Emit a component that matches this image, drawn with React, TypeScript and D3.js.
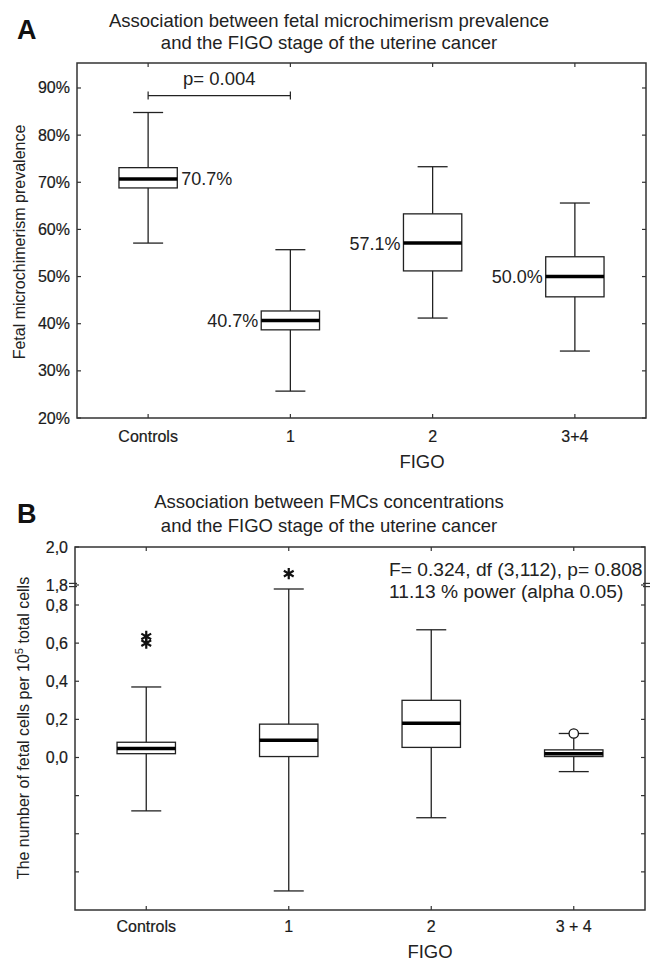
import React, { useEffect, useRef } from 'react';
import * as d3 from 'd3';

const width = 652;
const height = 966;
const font = 'Arial, "Liberation Sans", Helvetica, sans-serif';

// panel A: prevalence boxes
const groupsA = ['Controls', '1', '2', '3+4'];
const whiskerHighA = [84.8, 55.7, 73.3, 65.6];
const q3A = [73.1, 42.7, 63.3, 54.2];
const medianA = [70.7, 40.7, 57.1, 50.0];
const q1A = [68.8, 38.7, 51.2, 45.7];
const whiskerLowA = [57.1, 25.7, 41.2, 34.2];
const ticksA = [20, 30, 40, 50, 60, 70, 80, 90];

// panel B: FMC concentrations (broken axis 0.8 -> 1.8)
const groupsB = ['Controls', '1', '2', '3 + 4'];
const whiskerHighB = [0.37, 1.6, 0.67, 0.126];
const q3B = [0.08, 0.175, 0.30, 0.04];
const medianB = [0.047, 0.09, 0.18, 0.02];
const q1B = [0.02, 0.005, 0.053, 0.005];
const whiskerLowB = [-0.28, -0.70, -0.316, -0.074];
const ticksB = [2.0, 1.8, 0.8, 0.6, 0.4, 0.2, 0.0, -0.2, -0.4, -0.6];
const starOutliersB = [
  { group: 'Controls', value: 0.60 },
  { group: 'Controls', value: 0.635 },
  { group: '1', value: 1.86 },
];
const circleOutliersB = [{ group: '3 + 4', value: 0.126 }];

type Box = { group: string; hi: number; q3: number; med: number; q1: number; lo: number };

// slightly heavier text, the scanned figure looks a bit bold
function heavy(sel: any, w = 0.2) {
  return sel.attr('fill', '#1a1a1a').attr('stroke', '#1a1a1a').attr('stroke-width', w);
}

function drawPanel(svg: any, opts: any) {
  const { x0, x1, y0, y1, groups, y, ticks, tickFmt, boxes } = opts;
  const x = d3.scaleBand<string>().domain(groups).range([x0, x1]).padding(0);
  const g = svg.append('g');
  const tickLen = 4;

  // frame
  g.append('rect')
    .attr('x', x0).attr('y', y0)
    .attr('width', x1 - x0).attr('height', y1 - y0)
    .attr('fill', 'none').attr('stroke', '#333').attr('stroke-width', 1.5);

  // y ticks left + right
  g.selectAll('line.yl').data(ticks).enter().append('line')
    .attr('x1', x0).attr('x2', x0 + tickLen)
    .attr('y1', (d: number) => y(d)).attr('y2', (d: number) => y(d))
    .attr('stroke', '#333').attr('stroke-width', 1.2);
  g.selectAll('line.yr').data(ticks).enter().append('line')
    .attr('x1', x1).attr('x2', x1 - tickLen)
    .attr('y1', (d: number) => y(d)).attr('y2', (d: number) => y(d))
    .attr('stroke', '#333').attr('stroke-width', 1.2);
  heavy(g.selectAll('text.yt').data(ticks.filter((d: number) => tickFmt(d) !== '')).enter().append('text')
    .attr('x', x0 - 7).attr('y', (d: number) => y(d) + 5.5)
    .attr('text-anchor', 'end')
    .style('font-family', font).style('font-size', '16px'))
    .text(tickFmt);

  // x ticks top + bottom
  g.selectAll('line.xt').data(groups).enter().append('line')
    .attr('x1', (d: string) => x(d)! + x.bandwidth() / 2).attr('x2', (d: string) => x(d)! + x.bandwidth() / 2)
    .attr('y1', y0).attr('y2', y0 + tickLen)
    .attr('stroke', '#333').attr('stroke-width', 1.2);
  g.selectAll('line.xb').data(groups).enter().append('line')
    .attr('x1', (d: string) => x(d)! + x.bandwidth() / 2).attr('x2', (d: string) => x(d)! + x.bandwidth() / 2)
    .attr('y1', y1).attr('y2', y1 - tickLen)
    .attr('stroke', '#333').attr('stroke-width', 1.2);

  const boxW = x.bandwidth() * 0.41;
  const capW = 30;
  const bg = g.selectAll('g.box').data(boxes).enter().append('g')
    .attr('transform', (d: Box) => 'translate(' + (x(d.group)! + x.bandwidth() / 2) + ',0)');
  // whiskers
  bg.append('line')
    .attr('x1', 0).attr('x2', 0)
    .attr('y1', (d: Box) => y(d.hi)).attr('y2', (d: Box) => y(d.lo))
    .attr('stroke', '#222').attr('stroke-width', 1.3);
  bg.append('line')
    .attr('x1', -capW / 2).attr('x2', capW / 2)
    .attr('y1', (d: Box) => y(d.hi)).attr('y2', (d: Box) => y(d.hi))
    .attr('stroke', '#222').attr('stroke-width', 1.3);
  bg.append('line')
    .attr('x1', -capW / 2).attr('x2', capW / 2)
    .attr('y1', (d: Box) => y(d.lo)).attr('y2', (d: Box) => y(d.lo))
    .attr('stroke', '#222').attr('stroke-width', 1.3);
  bg.append('rect')
    .attr('x', -boxW / 2).attr('width', boxW)
    .attr('y', (d: Box) => y(d.q3)).attr('height', (d: Box) => y(d.q1) - y(d.q3))
    .attr('fill', 'white').attr('stroke', '#222').attr('stroke-width', 1.3);
  bg.append('line')
    .attr('x1', -boxW / 2).attr('x2', boxW / 2)
    .attr('y1', (d: Box) => y(d.med)).attr('y2', (d: Box) => y(d.med))
    .attr('stroke', '#000').attr('stroke-width', 3.5);

  // category labels
  heavy(g.selectAll('text.xl').data(groups).enter().append('text')
    .attr('x', (d: string) => x(d)! + x.bandwidth() / 2)
    .attr('y', opts.xLabelY)
    .attr('text-anchor', 'middle')
    .style('font-family', font).style('font-size', '16px'))
    .text((d: string) => d);

  g.append('text')
    .attr('x', opts.figoX).attr('y', opts.figoY)
    .attr('text-anchor', 'middle')
    .style('font-family', font).style('font-size', '18.5px').attr('fill', '#222')
    .text('FIGO');

  // title
  opts.title.forEach((t: string, i: number) => {
    g.append('text')
      .attr('x', 329).attr('y', opts.titleY[i])
      .attr('text-anchor', 'middle')
      .style('font-family', font).style('font-size', '18.5px').attr('fill', '#222')
      .text(t);
  });
  g.append('text')
    .attr('x', 17).attr('y', opts.letterY)
    .style('font-family', font).style('font-size', '27px').style('font-weight', 'bold')
    .attr('fill', '#111')
    .text(opts.letter);

  return { g, x };
}

export default function App() {
  const ref = useRef<SVGSVGElement>(null);

  useEffect(() => {
    const svg = d3.select(ref.current);
    svg.selectAll('*').remove();

    // ---------- A ----------
    const yA = d3.scaleLinear().domain([20, 95.3]).range([418, 63]);
    const boxesA: Box[] = groupsA.map((group, i) => ({
      group, hi: whiskerHighA[i], q3: q3A[i], med: medianA[i], q1: q1A[i], lo: whiskerLowA[i],
    }));
    const A = drawPanel(svg, {
      x0: 77, x1: 646, y0: 63, y1: 418, groups: groupsA, y: yA, ticks: ticksA,
      tickFmt: (d: number) => d + '%', boxes: boxesA,
      xLabelY: 442, figoX: 422, figoY: 468,
      title: ['Association between fetal microchimerism prevalence', 'and the FIGO stage of the uterine cancer'],
      titleY: [27, 49], letter: 'A', letterY: 39,
    });
    const xA = A.x;
    const cxA = (d: string) => xA(d)! + xA.bandwidth() / 2;
    const bwA = xA.bandwidth() * 0.41;

    // median labels
    A.g.selectAll('text.med').data(boxesA).enter().append('text')
      .attr('x', (d: Box, i: number) => i === 0 ? cxA(d.group) + bwA / 2 + 4 : cxA(d.group) - bwA / 2 - 3)
      .attr('y', (d: Box) => yA(d.med) + 6.5)
      .attr('text-anchor', (_: Box, i: number) => i === 0 ? 'start' : 'end')
      .style('font-family', font).style('font-size', '18px').attr('fill', '#222')
      .text((d: Box) => d.med.toFixed(1) + '%');

    // significance bracket
    const by = yA(88.4);
    const bx1 = cxA(groupsA[0]);
    const bx2 = cxA(groupsA[1]);
    A.g.append('line').attr('x1', bx1).attr('x2', bx2).attr('y1', by).attr('y2', by)
      .attr('stroke', '#222').attr('stroke-width', 1.2);
    [bx1, bx2].forEach((bx) => {
      A.g.append('line').attr('x1', bx).attr('x2', bx).attr('y1', by - 4).attr('y2', by + 4)
        .attr('stroke', '#222').attr('stroke-width', 1.2);
    });
    A.g.append('text')
      .attr('x', (bx1 + bx2) / 2).attr('y', by - 11)
      .attr('text-anchor', 'middle')
      .style('font-family', font).style('font-size', '18.5px').attr('fill', '#222')
      .text('p= 0.004');

    // y title A
    A.g.append('text')
      .attr('transform', 'translate(25,242)rotate(-90)')
      .attr('text-anchor', 'middle')
      .style('font-family', font).style('font-size', '16px').attr('fill', '#222')
      .text('Fetal microchimerism prevalence');

    // ---------- B ----------
    const yB = d3.scaleLinear().domain([-0.8, 0.8, 1.8, 2.0]).range([910, 605, 585, 547]);
    const boxesB: Box[] = groupsB.map((group, i) => ({
      group, hi: whiskerHighB[i], q3: q3B[i], med: medianB[i], q1: q1B[i], lo: whiskerLowB[i],
    }));
    const B = drawPanel(svg, {
      x0: 75, x1: 645, y0: 547, y1: 910, groups: groupsB, y: yB, ticks: ticksB,
      tickFmt: (d: number) => d < 0 ? '' : d.toFixed(1).replace('.', ','), boxes: boxesB,
      xLabelY: 932, figoX: 430, figoY: 958,
      title: ['Association between FMCs concentrations', 'and the FIGO stage of the uterine cancer'],
      titleY: [508, 532], letter: 'B', letterY: 523,
    });
    const xB = B.x;
    const cxB = (d: string) => xB(d)! + xB.bandwidth() / 2;

    // axis break marks
    const brk = yB(1.8);
    [[75, -6, 2], [645, -2, 5]].forEach(([ax, a, b]) => {
      [-1.6, 1.6].forEach((off) => {
        B.g.append('line')
          .attr('x1', ax + a).attr('x2', ax + b)
          .attr('y1', brk + off).attr('y2', brk + off)
          .attr('stroke', '#333').attr('stroke-width', 1.2);
      });
    });

    // outliers
    const star = d3.symbol().type(d3.symbolAsterisk).size(90);
    B.g.selectAll('path.star').data(starOutliersB).enter().append('path')
      .attr('transform', (d: any) => 'translate(' + cxB(d.group) + ',' + yB(d.value) + ')')
      .attr('d', star as any)
      .attr('fill', 'none').attr('stroke', '#111').attr('stroke-width', 2.2);
    B.g.selectAll('circle.out').data(circleOutliersB).enter().append('circle')
      .attr('cx', (d: any) => cxB(d.group)).attr('cy', (d: any) => yB(d.value))
      .attr('r', 4.7)
      .attr('fill', 'white').attr('stroke', '#111').attr('stroke-width', 1.3);

    // stats text
    B.g.append('text')
      .attr('x', 389).attr('y', 576)
      .style('font-family', font).style('font-size', '19.2px').attr('fill', '#222')
      .text('F= 0.324, df (3,112), p= 0.808');
    B.g.append('text')
      .attr('x', 389).attr('y', 598)
      .style('font-family', font).style('font-size', '19.2px').attr('fill', '#222')
      .text('11.13 % power (alpha 0.05)');

    // y title B
    const yt = B.g.append('text')
      .attr('transform', 'translate(29,728)rotate(-90)')
      .attr('text-anchor', 'middle')
      .style('font-family', font).style('font-size', '16px').attr('fill', '#222');
    yt.append('tspan').text('The number of fetal cells per 10');
    yt.append('tspan').attr('dy', -6).style('font-size', '11px').text('5');
    yt.append('tspan').attr('dy', 6).text(' total cells');
  }, []);

  return (
    <svg
      ref={ref}
      width={width}
      height={height}
      style={{ position: 'absolute', left: 0, top: 0, background: 'white' }}
    />
  );
}
